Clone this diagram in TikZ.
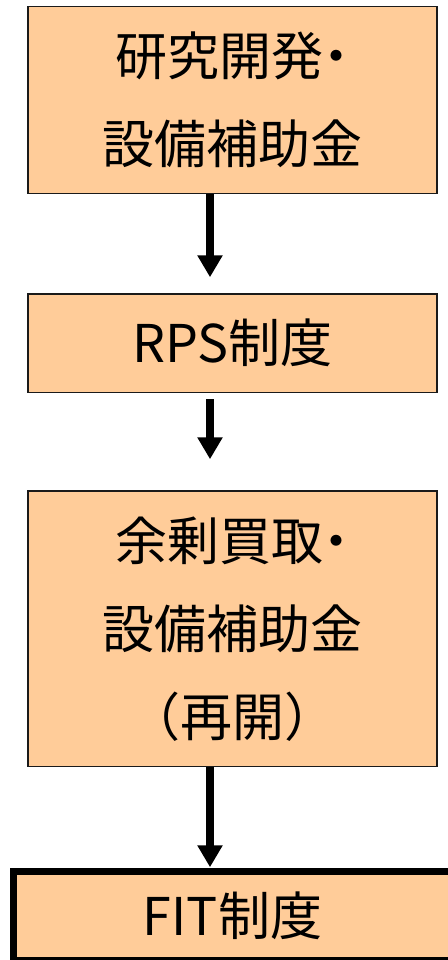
\documentclass[tikz,border=0pt]{standalone}
\usepackage{fontspec}
\newfontfamily\jpfont{Noto Sans CJK JP}
\usepackage{xcolor}
\definecolor{Peach}{HTML}{FFCC99}
\definecolor{Edge}{HTML}{1A1A1A}
\usepackage{tikz}
\usetikzlibrary{arrows.meta,positioning}
\newcommand{\halfdot}{\makebox[.5em]{・}}
\tikzset{
  policy/.style={draw=Edge,fill=Peach,line width=1.5pt,minimum width=409pt,
    align=center,inner sep=0pt,font=\jpfont\fontsize{52}{88}\selectfont},
  current/.style={policy,draw=black,line width=7pt,minimum width=438pt},
  arrow/.style={-{Triangle[length=22pt,width=24pt]},line width=8pt,draw=black}
}

\begin{document}
\begin{tikzpicture}
\useasboundingbox (0pt,0pt) rectangle (447pt,-960pt);
\node[policy,minimum height=187pt] (research) at (232.5pt,-100pt) {研究開発\halfdot\\設備補助金};
\node[policy,below=99pt of research,minimum height=98.5pt] (rps) {RPS制度};
\node[policy,below=97pt of rps,minimum height=275.5pt] (surplus) {余剰買取\halfdot\\設備補助金\\（再開）};
\node[current,below=101pt of surplus,minimum height=89pt] (fit) {FIT制度};
% arrows sit a little left of the box centres
\draw[arrow,shorten >=16pt] ([xshift=-22.5pt]research.south)--([xshift=-22.5pt]rps.north);
\draw[arrow,shorten <=6pt,shorten >=31pt] ([xshift=-22.5pt]rps.south)--([xshift=-22.5pt]surplus.north);
\draw[arrow,shorten >=1pt] ([xshift=-22.5pt]surplus.south)--([xshift=-22.5pt]fit.north);
\end{tikzpicture}
\end{document}
